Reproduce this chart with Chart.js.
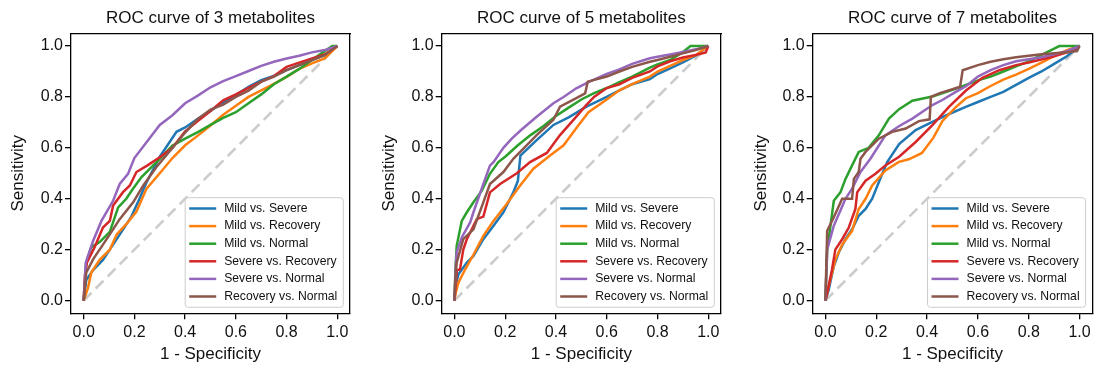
<!DOCTYPE html>
<html>
<head>
<meta charset="utf-8">
<script src="https://cdn.jsdelivr.net/npm/chart.js@4.4.1/dist/chart.umd.min.js"></script>
<style>
  body { margin: 0; background: #fff; }
  .panel { position: absolute; top: 0; }
</style>
</head>
<body>
<canvas id="roc3" class="panel" width="365" height="367" style="left:0"></canvas>
<canvas id="roc5" class="panel" width="365" height="367" style="left:365px"></canvas>
<canvas id="roc7" class="panel" width="366" height="367" style="left:730px"></canvas>
<script>
const seriesLabels = ['Mild vs. Severe', 'Mild vs. Recovery', 'Mild vs. Normal',
  'Severe vs. Recovery', 'Severe vs. Normal', 'Recovery vs. Normal'];
const seriesColors = ['#1f77b4', '#ff7f0e', '#2ca02c', '#d62728', '#9467bd', '#8c564b'];
const panelTitles = ['ROC curve of 3 metabolites', 'ROC curve of 5 metabolites', 'ROC curve of 7 metabolites'];
const axisTicks = [0, 0.2, 0.4, 0.6, 0.8, 1.0];
const chanceLine = [[0, 0], [1, 1]];

// points are [1 - specificity, sensitivity]
// 3 metabolites
const m3MildSevere = [[0,0],[0.01,0.08],[0.037,0.12],[0.076,0.16],[0.103,0.2],[0.149,0.27],[0.188,0.33],[0.22,0.4],[0.248,0.465],[0.3,0.565],[0.366,0.663],[0.4,0.68],[0.45,0.714],[0.5,0.745],[0.55,0.78],[0.6,0.807],[0.65,0.84],[0.7,0.866],[0.75,0.883],[0.8,0.905],[0.85,0.925],[0.9,0.945],[0.95,0.964],[1,1]];
const m3MildRecovery = [[0,0],[0.017,0.05],[0.03,0.11],[0.063,0.16],[0.103,0.2],[0.13,0.26],[0.168,0.3],[0.208,0.35],[0.248,0.44],[0.3,0.5],[0.35,0.56],[0.4,0.61],[0.45,0.648],[0.5,0.688],[0.55,0.73],[0.6,0.765],[0.65,0.8],[0.7,0.826],[0.75,0.851],[0.8,0.879],[0.85,0.91],[0.9,0.932],[0.95,0.951],[1,1]];
const m3MildNormal = [[0,0],[0.01,0.15],[0.03,0.21],[0.063,0.23],[0.103,0.27],[0.136,0.366],[0.168,0.4],[0.195,0.44],[0.228,0.485],[0.3,0.557],[0.35,0.609],[0.4,0.636],[0.45,0.662],[0.5,0.69],[0.55,0.718],[0.6,0.74],[0.65,0.775],[0.7,0.81],[0.75,0.85],[0.8,0.88],[0.85,0.91],[0.9,0.945],[0.95,0.98],[0.98,1],[1,1]];
const m3SevereRecovery = [[0,0],[0.005,0.1],[0.013,0.15],[0.043,0.21],[0.076,0.287],[0.103,0.313],[0.116,0.373],[0.155,0.426],[0.182,0.452],[0.208,0.505],[0.25,0.53],[0.3,0.563],[0.35,0.6],[0.4,0.665],[0.45,0.705],[0.5,0.745],[0.55,0.787],[0.6,0.81],[0.65,0.836],[0.7,0.86],[0.75,0.882],[0.8,0.918],[0.85,0.935],[0.9,0.951],[0.95,0.967],[1,1]];
const m3SevereNormal = [[0,0],[0.008,0.149],[0.037,0.234],[0.07,0.313],[0.116,0.392],[0.142,0.458],[0.175,0.498],[0.2,0.56],[0.25,0.625],[0.3,0.69],[0.35,0.728],[0.4,0.775],[0.45,0.805],[0.5,0.838],[0.55,0.862],[0.6,0.882],[0.65,0.902],[0.7,0.922],[0.75,0.938],[0.8,0.951],[0.85,0.962],[0.9,0.975],[0.95,0.984],[1,1]];
const m3RecoveryNormal = [[0,0],[0.01,0.11],[0.037,0.162],[0.076,0.22],[0.103,0.26],[0.142,0.32],[0.195,0.386],[0.235,0.452],[0.287,0.525],[0.35,0.6],[0.4,0.66],[0.45,0.714],[0.5,0.75],[0.55,0.77],[0.6,0.8],[0.65,0.825],[0.7,0.86],[0.75,0.88],[0.8,0.905],[0.85,0.925],[0.9,0.945],[0.95,0.964],[1,1]];

// 5 metabolites
const m5MildSevere = [[0,0],[0.005,0.06],[0.016,0.103],[0.049,0.149],[0.075,0.175],[0.114,0.241],[0.154,0.294],[0.193,0.347],[0.232,0.425],[0.25,0.47],[0.26,0.57],[0.324,0.63],[0.39,0.69],[0.45,0.72],[0.52,0.762],[0.6,0.8],[0.65,0.826],[0.7,0.85],[0.77,0.87],[0.8,0.89],[0.85,0.912],[0.9,0.936],[0.95,0.962],[1,1]];
const m5MildRecovery = [[0,0],[0.005,0.03],[0.016,0.07],[0.042,0.122],[0.075,0.18],[0.114,0.254],[0.154,0.313],[0.206,0.379],[0.259,0.452],[0.311,0.518],[0.377,0.57],[0.43,0.61],[0.482,0.68],[0.528,0.74],[0.6,0.79],[0.65,0.826],[0.7,0.85],[0.77,0.88],[0.8,0.9],[0.85,0.922],[0.9,0.945],[0.95,0.964],[1,1]];
const m5MildNormal = [[0,0],[0.004,0.12],[0.009,0.215],[0.029,0.313],[0.049,0.347],[0.075,0.386],[0.108,0.432],[0.14,0.498],[0.173,0.544],[0.2,0.565],[0.25,0.61],[0.3,0.65],[0.35,0.685],[0.4,0.725],[0.45,0.758],[0.5,0.79],[0.55,0.815],[0.6,0.835],[0.65,0.858],[0.7,0.88],[0.77,0.915],[0.8,0.928],[0.85,0.945],[0.9,0.977],[0.93,1],[1,1]];
const m5SevereRecovery = [[0,0],[0.01,0.12],[0.022,0.122],[0.035,0.2],[0.049,0.241],[0.088,0.32],[0.114,0.33],[0.14,0.425],[0.18,0.458],[0.246,0.5],[0.298,0.544],[0.364,0.58],[0.416,0.65],[0.469,0.71],[0.521,0.77],[0.55,0.8],[0.6,0.835],[0.65,0.85],[0.7,0.875],[0.77,0.9],[0.8,0.92],[0.85,0.94],[0.9,0.955],[0.95,0.965],[0.99,0.975],[1,1]];
const m5SevereNormal = [[0,0],[0.005,0.13],[0.009,0.19],[0.03,0.25],[0.062,0.307],[0.075,0.347],[0.114,0.458],[0.14,0.53],[0.154,0.544],[0.193,0.6],[0.226,0.636],[0.265,0.672],[0.324,0.722],[0.39,0.775],[0.43,0.8],[0.48,0.834],[0.528,0.858],[0.6,0.89],[0.65,0.908],[0.7,0.93],[0.77,0.952],[0.8,0.958],[0.85,0.967],[0.9,0.977],[0.95,0.987],[1,1]];
const m5RecoveryNormal = [[0,0],[0.005,0.1],[0.009,0.149],[0.035,0.241],[0.075,0.28],[0.114,0.386],[0.14,0.458],[0.193,0.505],[0.232,0.557],[0.265,0.59],[0.324,0.65],[0.39,0.71],[0.416,0.762],[0.48,0.795],[0.515,0.814],[0.525,0.86],[0.6,0.88],[0.65,0.9],[0.7,0.918],[0.77,0.938],[0.8,0.945],[0.85,0.958],[0.9,0.971],[0.95,0.984],[1,1]];

// 7 metabolites
const m7MildSevere = [[0,0],[0.013,0.043],[0.033,0.135],[0.052,0.188],[0.079,0.241],[0.105,0.28],[0.131,0.333],[0.158,0.36],[0.184,0.4],[0.21,0.465],[0.243,0.544],[0.29,0.615],[0.355,0.67],[0.421,0.702],[0.487,0.733],[0.55,0.76],[0.6,0.78],[0.65,0.8],[0.7,0.82],[0.75,0.847],[0.8,0.875],[0.85,0.9],[0.9,0.93],[0.95,0.96],[1,1]];
const m7MildRecovery = [[0,0],[0.013,0.057],[0.039,0.16],[0.066,0.22],[0.105,0.274],[0.131,0.36],[0.158,0.4],[0.184,0.452],[0.236,0.511],[0.289,0.545],[0.328,0.555],[0.38,0.58],[0.425,0.64],[0.46,0.705],[0.513,0.76],[0.553,0.795],[0.6,0.815],[0.65,0.843],[0.7,0.868],[0.75,0.888],[0.8,0.91],[0.85,0.935],[0.9,0.96],[0.95,0.984],[1,1]];
const m7MildNormal = [[0,0],[0.007,0.2],[0.02,0.294],[0.033,0.392],[0.059,0.425],[0.079,0.478],[0.105,0.531],[0.131,0.584],[0.17,0.6],[0.21,0.649],[0.25,0.715],[0.29,0.752],[0.342,0.785],[0.421,0.802],[0.5,0.828],[0.553,0.847],[0.6,0.865],[0.65,0.88],[0.7,0.9],[0.75,0.92],[0.8,0.94],[0.85,0.965],[0.9,0.99],[0.92,1],[1,1]];
const m7SevereRecovery = [[0,0],[0.007,0.03],[0.026,0.122],[0.039,0.2],[0.066,0.241],[0.092,0.287],[0.118,0.36],[0.125,0.425],[0.158,0.471],[0.197,0.498],[0.236,0.531],[0.29,0.565],[0.355,0.623],[0.421,0.689],[0.487,0.762],[0.553,0.825],[0.618,0.875],[0.684,0.905],[0.75,0.925],[0.8,0.935],[0.9,0.96],[0.95,0.975],[1,1]];
const m7SevereNormal = [[0,0],[0.007,0.2],[0.033,0.294],[0.079,0.4],[0.105,0.44],[0.138,0.505],[0.177,0.557],[0.236,0.649],[0.289,0.685],[0.342,0.715],[0.421,0.768],[0.46,0.788],[0.513,0.82],[0.553,0.842],[0.6,0.88],[0.65,0.905],[0.7,0.925],[0.75,0.94],[0.8,0.948],[0.85,0.956],[0.9,0.968],[0.95,0.98],[1,1]];
const m7RecoveryNormal = [[0,0],[0.007,0.274],[0.033,0.327],[0.066,0.4],[0.105,0.4],[0.112,0.478],[0.131,0.505],[0.138,0.557],[0.158,0.584],[0.21,0.636],[0.263,0.663],[0.316,0.676],[0.368,0.705],[0.41,0.712],[0.415,0.8],[0.45,0.815],[0.5,0.83],[0.53,0.84],[0.54,0.905],[0.6,0.925],[0.65,0.938],[0.7,0.948],[0.75,0.956],[0.8,0.962],[0.85,0.968],[0.9,0.972],[0.95,0.976],[0.99,0.98],[1,1]];

const FONT = '"Liberation Sans", Arial, sans-serif';
const TEXT = '#111';

// matplotlib-style legend in the lower right corner of the axes
const insideLegend = {
  id: 'insideLegend',
  afterDatasetsDraw(chart) {
    const { ctx, chartArea } = chart;
    const items = chart.data.datasets.filter(d => !d.isChance);
    ctx.save();
    ctx.font = '12.2px ' + FONT;
    const textW = Math.max(...items.map(d => ctx.measureText(d.label).width));
    const rowH = 17.6;
    const w = textW + 45;
    const h = 21.6 + rowH * (items.length - 1);
    const x = chartArea.right - 6.7 - w;
    const y = chartArea.bottom - 6 - h;
    ctx.beginPath();
    ctx.roundRect(x, y, w, h, 3);
    ctx.fillStyle = 'rgba(255,255,255,0.8)';
    ctx.fill();
    ctx.strokeStyle = '#cccccc';
    ctx.lineWidth = 1;
    ctx.stroke();
    items.forEach((d, i) => {
      const cy = y + 10.8 + i * rowH;
      ctx.strokeStyle = d.borderColor;
      ctx.lineWidth = 2.5;
      ctx.beginPath();
      ctx.moveTo(x + 4, cy);
      ctx.lineTo(x + 31, cy);
      ctx.stroke();
      ctx.fillStyle = TEXT;
      ctx.textBaseline = 'middle';
      ctx.fillText(d.label, x + 39, cy);
    });
    ctx.restore();
  }
};

function frameAxis(position, size) {
  const horizontal = position === 'top';
  return {
    type: 'linear', position, min: -0.05, max: 1.05,
    grid: { display: false },
    border: { display: true, color: '#000', width: 1.3 },
    ticks: { display: false },
    afterFit: s => { if (horizontal) s.height = size; else s.width = size; }
  };
}

function makePanel(id, title, curves, lay) {
  const datasets = curves.map((pts, i) => ({
    label: seriesLabels[i],
    data: pts.map(p => ({ x: p[0], y: p[1] })),
    borderColor: seriesColors[i],
    borderWidth: 2.5,
    order: curves.length - i
  }));
  datasets.push({
    label: 'chance',
    isChance: true,
    data: chanceLine.map(p => ({ x: p[0], y: p[1] })),
    borderColor: '#cccccc',
    borderWidth: 2.6,
    borderDash: [11, 6],
    order: 99
  });

  const tickFont = { family: FONT, size: 16 };
  const labelFont = { family: FONT, size: 17 };
  const top = frameAxis('top', 33.3);
  top.title = { display: true, text: title, color: TEXT, font: labelFont, padding: { top: 8, bottom: 0 } };

  new Chart(document.getElementById(id), {
    type: 'line',
    data: { datasets },
    options: {
      responsive: false,
      animation: false,
      devicePixelRatio: 1,
      layout: { padding: 0 },
      elements: { point: { radius: 0 }, line: { tension: 0 } },
      plugins: { legend: { display: false }, tooltip: { enabled: false } },
      scales: {
        x: {
          type: 'linear', min: -0.05, max: 1.05,
          afterBuildTicks: s => { s.ticks = axisTicks.map(v => ({ value: v })); },
          afterFit: s => { s.height = 53.7; },
          grid: { drawOnChartArea: false, drawTicks: true, tickLength: 6, color: '#000', lineWidth: 1.3 },
          border: { display: true, color: '#000', width: 1.3 },
          ticks: { padding: 4, color: TEXT, font: tickFont, maxRotation: 0, callback: v => v.toFixed(1) },
          title: { display: true, text: '1 - Specificity', color: TEXT, font: labelFont, padding: { top: 0, bottom: 2 } }
        },
        y: {
          type: 'linear', min: -0.05, max: 1.05,
          afterBuildTicks: s => { s.ticks = axisTicks.map(v => ({ value: v })); },
          afterFit: s => { s.width = lay.left; },
          grid: { drawOnChartArea: false, drawTicks: true, tickLength: 6, color: '#000', lineWidth: 1.3 },
          border: { display: true, color: '#000', width: 1.3 },
          ticks: { padding: 2, color: TEXT, font: tickFont, callback: v => v.toFixed(1) },
          title: { display: true, text: 'Sensitivity', color: TEXT, font: labelFont, padding: { top: lay.yTitle, bottom: 0 } }
        },
        x2: top,
        y2: frameAxis('right', lay.right)
      }
    },
    plugins: [insideLegend]
  });
}

makePanel('roc3', panelTitles[0],
  [m3MildSevere, m3MildRecovery, m3MildNormal, m3SevereRecovery, m3SevereNormal, m3RecoveryNormal],
  { left: 71, right: 15, yTitle: 8 });
makePanel('roc5', panelTitles[1],
  [m5MildSevere, m5MildRecovery, m5MildNormal, m5SevereRecovery, m5SevereNormal, m5RecoveryNormal],
  { left: 76.7, right: 9, yTitle: 13.8 });
makePanel('roc7', panelTitles[2],
  [m7MildSevere, m7MildRecovery, m7MildNormal, m7SevereRecovery, m7SevereNormal, m7RecoveryNormal],
  { left: 82.7, right: 3.7, yTitle: 20.8 });
</script>
</body>
</html>
